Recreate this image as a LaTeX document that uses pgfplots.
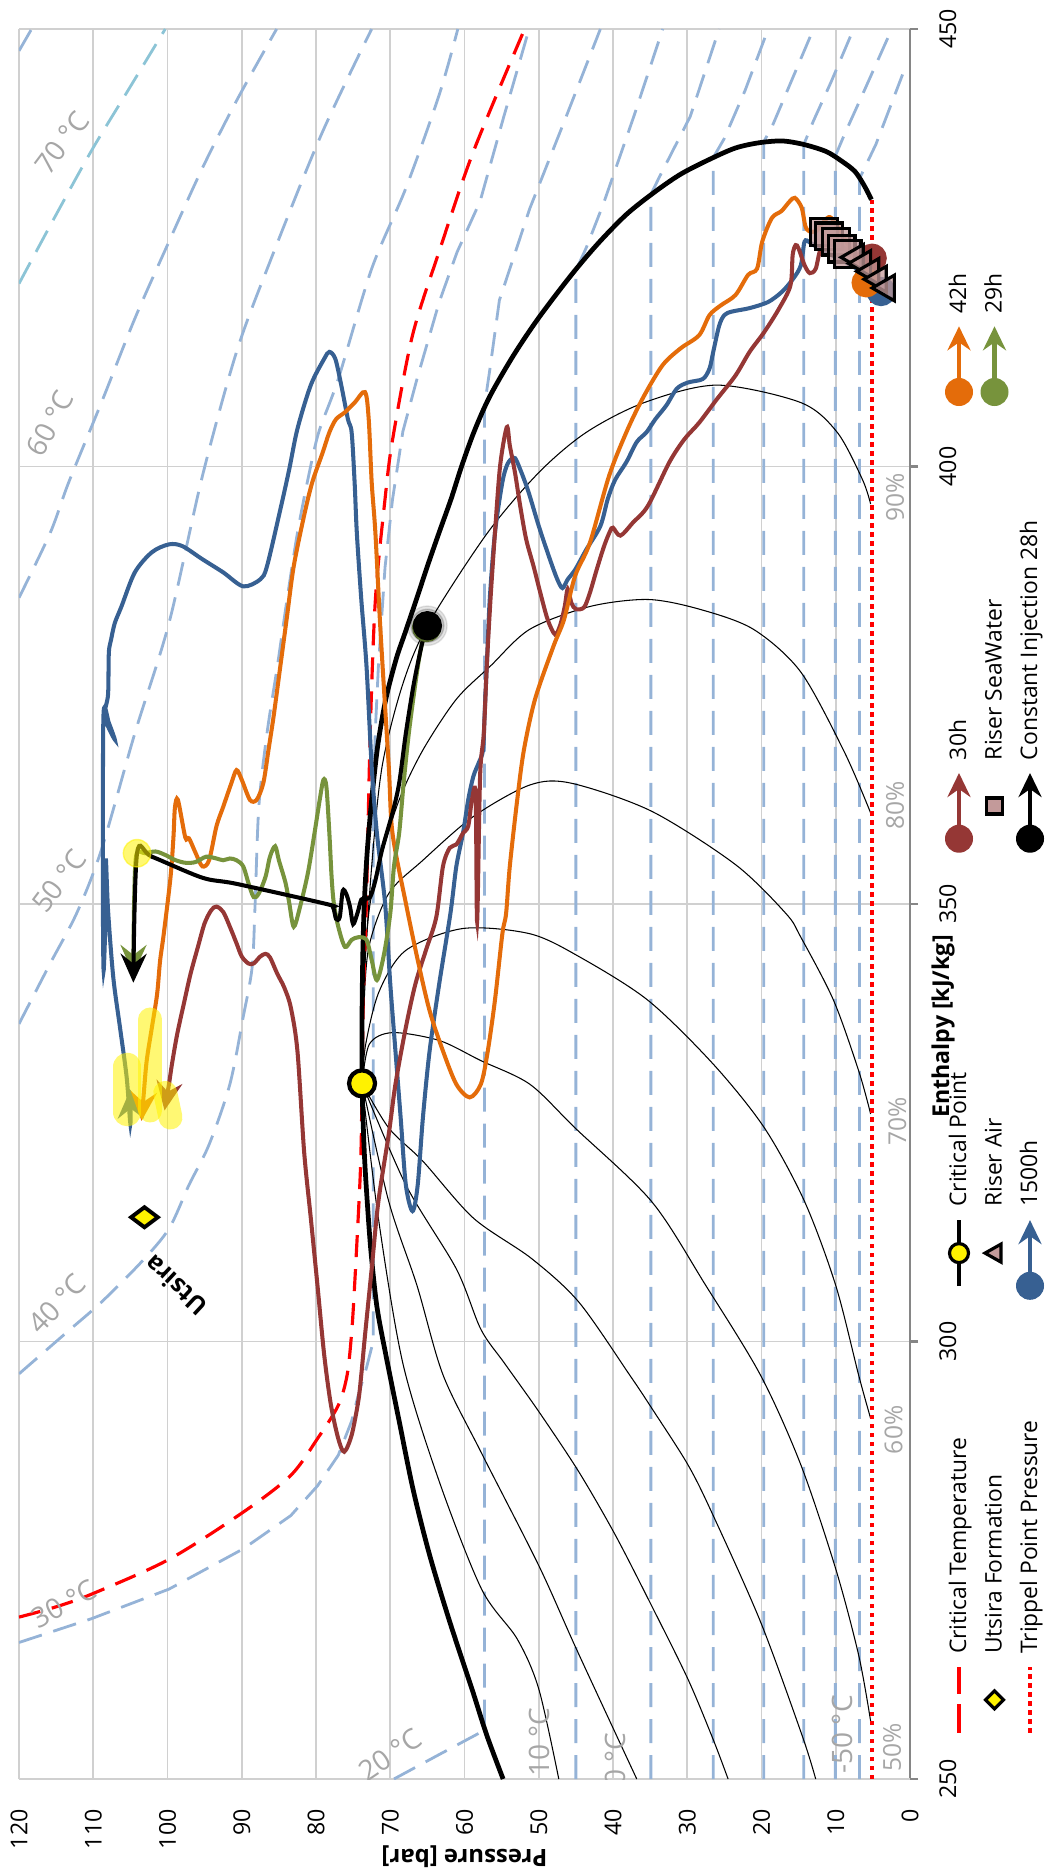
\documentclass[border=0pt]{standalone}
\usepackage{fontspec}
\setmainfont{Open Sans}
\usepackage{pgfplots}
\pgfplotsset{compat=1.18}
\usetikzlibrary{arrows.meta}

\definecolor{isoblue}{HTML}{95B3D7}
\definecolor{isoteal}{HTML}{8CC4D6}
\definecolor{corange}{HTML}{E46C0A}
\definecolor{cgreen}{HTML}{77933C}
\definecolor{cred}{HTML}{953735}
\definecolor{cblue}{HTML}{376092}
\definecolor{labgray}{HTML}{A6A6A6}
\definecolor{gridgray}{HTML}{D0D0D0}
\definecolor{axgray}{HTML}{868686}
\definecolor{riser}{HTML}{C39A9A}

\pgfplotsset{
  iso/.style={isoblue, line width=0.8pt, dash pattern=on 2.4mm off 1.2mm, forget plot},
  qual/.style={black, line width=0.3pt, smooth, forget plot},
  run/.style={#1, line width=1.15pt, smooth, mark=*, mark indices={1}, mark size=3.6pt,
    mark options={solid, fill=#1}, arrows={-Stealth[length=2.9mm,width=2.6mm,inset=1mm]}, forget plot},
  glow/.style={yellow, opacity=0.55, line cap=round, forget plot},
}
\tikzset{
  tlab/.style={font=\fontsize{8}{9}\selectfont, text=labgray, inner sep=0pt},
  plab/.style={font=\fontsize{7}{8}\selectfont, text=labgray, inner sep=0pt},
}

% legend sample: filled start circle, line, arrow end
\newcommand{\runlegend}[1]{%
  \addlegendimage{legend image code/.code={%
    \draw[#1, line width=1.15pt, arrows={-Stealth[length=2.4mm,width=2.3mm,inset=0.8mm]}] (1.3mm,0mm) -- (7.9mm,0mm);
    \fill[#1] (1.33mm,0mm) circle (1.33mm);
  }}}
\newcommand{\legtext}[1]{\makebox[34.3mm][l]{\strut #1}}

\begin{document}
\rotatebox{90}{%
\begin{tikzpicture}
\path[use as bounding box] (-9.2mm,-14.2mm) rectangle (177.9mm,91.0mm);
\begin{axis}[
  at={(0,0)}, anchor=south west,
  scale only axis, width=175mm, height=89.1mm,
  xmin=250, xmax=450, ymin=0, ymax=120,
  xtick={250,300,...,450}, ytick={0,10,...,120},
  axis x line*=bottom, axis y line*=left,
  x axis line style={axgray, line width=0.6pt, -},
  y axis line style={gridgray, line width=0.5pt, -},
  grid=major, grid style={gridgray, line width=0.45pt},
  tick align=outside, major tick length=0.8mm,
  xtick style={axgray, line width=0.6pt},
  ytick style={draw=none},
  /pgf/number format/assume math mode=true,
  ticklabel style={font=\fontsize{6.6}{8}\selectfont},
  xticklabel style={yshift=-0.9mm},
  yticklabel style={xshift=-1.0mm},
  xlabel={\textbf{Enthalpy [kJ/kg]}},
  xlabel style={at={(axis description cs:0.43,0)}, anchor=center, yshift=-3.3mm, font=\fontsize{6.6}{8}\selectfont},
  ylabel={\textbf{Pressure [bar]}},
  ylabel style={at={(axis description cs:-0.0446,0.5)}, anchor=center, font=\fontsize{6.8}{8}\selectfont},
  legend columns=4,
  legend cell align=left,
  legend style={at={(axis description cs:0.0189,0)}, anchor=north west, yshift=-3.5mm,
    draw=none, fill=none, inner sep=0pt, outer sep=0pt,
    column sep=1.1mm, row sep=0.75mm,
    font=\fontsize{6.5}{7.9}\selectfont, nodes={inner sep=0pt}},
]

% ---------- isotherms ----------
\addplot[iso] coordinates {(447.5,120) (450,118.3)};
\addplot[forget plot, isoteal, line width=0.8pt, dash pattern=on 2.4mm off 1.2mm, smooth] coordinates {(420.9,120) (428,115.5) (436.0,110.3) (443,105.3) (450,100.3)};
\addplot[iso, smooth] coordinates {(385,120) (392.4,115.8) (398.2,113.3) (407.3,108.9) (416.9,104.4) (425.7,99.8) (434.1,95.3) (441.8,90.7) (450,85.3)};
\addplot[iso, smooth] coordinates {(336.3,120) (343.2,115.8) (349,112.2) (356.2,108.9) (369.5,104.4) (382.1,99.8) (398.9,95.3) (413.1,90.7) (423.4,86.2) (437.9,79.3) (450,72.5)};
\addplot[iso, smooth] coordinates {(296.3,120) (301.1,113.5) (304.5,108.9) (309.1,103.5) (312.9,99.8) (317.9,97.1) (322.5,94.4) (329.4,91.6) (337.1,89.8) (342.8,88.6) (350,88.2) (361.1,87.7) (369.5,86.6) (377.2,85.2) (384.8,83.9) (392.4,82.5) (398.9,81.0) (404,79.6) (410.0,77.0) (422.6,72.5) (431.8,67.9) (442.5,63.4) (450,60.9)};
\addplot[iso] coordinates {(265.6,120) (268.3,110.3) (271.7,99.8) (276.3,89.8) (280.1,83.4) (283.5,79.8) (287.0,77.0) (290.9,75.2) (293.9,74.3) (297,73.2) (300,72.3) (362,72.3) (370,72.0) (377.1,71.6) (388.5,70.7) (396.2,69.7) (404,68.3) (410,66.4) (418.8,63.4) (424.5,61.0) (430.3,57.9) (440,54.7) (450,51.3)};
\addplot[iso] coordinates {(250,69.5) (252.8,63.4) (255.3,57.9) (256.3,57.3) (407,57.3) (411,56.6) (419,55.3) (429.5,51.2) (440,46.3) (450,41.7)};
\addplot[iso] coordinates {(250,45.0) (422.4,45.0) (425,43.6) (430,41.3) (440,37.2) (450,33.3)};
\addplot[iso] coordinates {(250,34.9) (431.1,34.9) (433,33.8) (440,29.6) (450,25.7)};
\addplot[iso] coordinates {(250,26.5) (435.3,26.5) (437.5,25.0) (443,22.2) (450,19.1)};
\addplot[iso] coordinates {(250,19.7) (437.1,19.7) (439,18.5) (444,16.0) (450,13.0)};
\addplot[iso] coordinates {(250,14.3) (436.8,14.3) (439.5,13.0) (444,10.6) (450,7.6)};
\addplot[iso] coordinates {(250,10.05) (435.5,10.05) (438,8.8) (442.5,6.4) (450,2.45)};
\addplot[iso] coordinates {(250,6.8) (432.9,6.8) (436.8,4.6) (444.8,1.0)};

% ---------- vapour quality lines ----------
\addplot[qual] coordinates {(250,47.3) (260.3,50.0) (266.0,52.9) (271.7,57.7) (284.0,63.4) (297.5,68.3) (314.1,71.6) (329.5,73.8)};
\addplot[qual] coordinates {(250,36.8) (264.8,44.9) (274.4,50.0) (287.4,57.8) (296.2,62.9) (306.4,66.4) (316.0,70.2) (329.5,73.8)};
\addplot[qual] coordinates {(250,24.5) (254.5,26.5) (261.4,29.9) (269.8,34.8) (277.9,39.7) (285.1,44.6) (292.0,50.0) (297.5,54.6) (301.4,57.8) (308.3,61.1) (317.9,67.9) (329.5,73.8)};
\addplot[qual] coordinates {(250,12.7) (254.9,14.5) (267.9,20.1) (280.1,26.5) (285.9,29.9) (292.4,34.8) (296.1,37.7) (304.5,44.6) (309.5,51.0) (314.1,58.8) (320.6,65.6) (324.4,70.2) (329.5,73.8)};
\addplot[qual] coordinates {(256.6,5.3) (264.1,6.9) (274.0,10.0) (285.9,14.7) (296.1,20.1) (306.4,27.5) (316.0,34.8) (324.4,45.1) (329.4,51.2) (332.1,57.8) (334.4,63.4) (335.3,69.7) (334.0,72.8) (329.5,73.8)};
\addplot[qual] coordinates {(291.2,5.3) (296.1,6.9) (306.4,10.0) (316.0,14.2) (324.4,19.6) (331.7,26.5) (339.0,35.3) (344.0,44.6) (346.6,51.2) (347.2,60.2) (344.7,67.9) (340,71.5) (334,73.3) (329.5,73.8)};
\addplot[qual] coordinates {(326.0,5.3) (330.9,6.9) (339.0,10.3) (346.2,14.7) (348.9,16.7) (354.5,23.5) (360.6,34.8) (363.8,45.6) (363.6,51.2) (360.0,58.8) (355.0,65.6) (351.2,70.2) (345,72.9) (337,73.6) (329.5,73.8)};
\addplot[qual] coordinates {(360.4,5.3) (367.3,8.8) (376.5,14.7) (381.4,21.1) (383.7,28.4) (384.8,35.3) (384.0,43.1) (381.4,51.2) (377.2,56.5) (373.4,61.1) (367.6,65.6) (361.9,68.8) (354.3,71.6) (348.9,72.9) (340,73.6) (329.5,73.8)};
\addplot[qual] coordinates {(395.7,5.3) (398.5,6.4) (403.9,9.8) (407.3,14.7) (409.3,26.0) (407.3,35.8) (403.9,43.6) (399.3,50.0) (392.3,57.0) (381.8,65.0) (374.9,68.4) (365.7,71.1) (354.3,72.5) (340,73.6) (329.5,73.8)};

% ---------- triple point pressure and critical isotherm ----------
\addplot[forget plot, red, line width=1.15pt, dash pattern=on 0.45mm off 0.45mm] coordinates {(250,5.18) (430.5,5.18)};
\addplot[forget plot, red, line width=0.9pt, dash pattern=on 2.2mm off 1.2mm, smooth] coordinates {(268.5,120) (269.6,115.3) (271.1,110.3) (275.1,99.8) (280.5,89.8) (284.7,83.4) (288.9,79.8) (292.7,77.0) (296.2,75.8) (301,75.2) (306.4,74.8) (317.9,74.1) (323.3,73.9) (329.5,73.8) (340,73.6) (350.5,73.2) (369.5,72.7) (384.8,72.0) (396.3,70.7) (403,69.7) (415.0,67.0) (424.6,63.4) (436.0,58.8) (450,51.9)};

% ---------- saturation dome ----------
\addplot[forget plot, black, line width=1.35pt, smooth] coordinates {
 (250,54.8) (255,57.0) (260.3,59.0) (268,62.0) (275.6,64.7) (283,66.9) (290.9,68.8) (298.5,70.6)
 (304,71.8) (310.3,72.6) (316,73.1) (321.7,73.5) (329.5,73.8) (337,73.8) (344,73.7) (350,73.5)
 (356,73.1) (361.9,72.5) (368,71.7) (373.4,70.6) (378,69.2) (381,68.0) (385,66.4) (388.6,65.0)
 (392.5,63.4) (396.3,61.8) (400,60.4) (404,58.7) (408,56.6) (412.7,53.4) (417,50.0) (421.9,45.6)
 (425.5,42.0) (428.8,38.2) (431.3,34.5) (433.4,30.9) (435.1,27.0) (436.4,23.5) (437.0,20.3)
 (437.2,17.2) (436.8,14.3) (436.0,11.3) (434.9,9.2) (433.7,7.4) (432.0,6.1) (430.5,5.2)};

% ---------- measured runs ----------
\addplot[run=cblue] coordinates {
 (420.0,3.9) (422.5,7.0) (424.8,12.0) (425.6,13.5) (425.7,14.2) (423.0,14.7) (421.5,15.7) (420.0,17.2)
 (418.8,19.1) (418.1,21.6) (417.7,24.0) (417.3,25.0) (416.1,25.7) (413.1,26.5) (411.2,27.0) (410.0,27.9)
 (409.6,29.9) (408.9,31.4) (407.0,32.8) (405.4,34.3) (403.9,35.5) (402.8,36.8) (400.5,38.2) (398.5,39.7)
 (396.3,40.7) (393.2,41.7) (390.5,43.6) (388.2,45.1) (387.1,46.1) (386.1,46.8) (387.1,47.5) (389.4,48.5)
 (393.2,50.0) (397.4,51.5) (400.5,52.9) (401.0,53.4) (400.3,54.2) (398.2,54.9) (392.4,55.9) (384.8,56.6)
 (377.2,57.0) (371.5,57.3) (367.6,57.5) (366.1,58.1) (364.6,58.8) (361.9,59.5) (358.1,60.2) (354.3,61.1)
 (348.9,61.9) (340.9,63.4) (333.2,64.7) (325.6,65.6) (317.9,66.3) (314.9,67.0) (317.9,67.9) (325.6,68.6)
 (333.2,69.3) (340.9,70.0) (350.1,70.7) (358.1,71.8) (365.7,72.5) (377.2,73.2) (384.8,73.9) (392.4,74.5)
 (398.2,74.8) (403.9,75.2) (405.4,75.7) (409.3,76.6) (412.3,77.4) (413.1,78.2) (412.3,78.9) (409.3,80.7)
 (404.3,82.5) (399.7,83.6) (395.1,84.8) (388.6,86.6) (387.1,87.5) (386.3,89.8) (387.9,92.5) (389.4,95.3)
 (390.9,98.0) (391.1,99.8) (390.2,102.1) (387.9,104.4) (384.0,106.2) (382.1,107.1) (380.2,107.6) (378.7,107.9)
 (374.0,108.0) (372.1,108.4) (370.5,108.1) (368.8,107.1) (370.7,107.9) (372.0,108.6) (360.0,108.7) (350.0,108.7)
 (342.4,108.6) (350.0,108.3) (355.2,108.3) (349.2,108.0) (341.6,107.3) (335.9,106.4) (330.2,105.5) (324.9,105.0)
 (328.8,105.0)};

\addplot[run=cred] coordinates {
 (423.8,5.1) (424.5,8.0) (425.8,10.5) (424.9,12.0) (422.6,12.7) (422.1,13.5) (423.0,14.2) (424.9,15.0)
 (425.3,15.4) (424.2,15.8) (420.7,16.1) (418.1,17.6) (415.4,19.6) (413.1,21.6) (410.4,23.5) (407.7,26.0)
 (405.0,28.4) (403.1,30.4) (400.5,32.4) (395.5,35.3) (393.6,37.3) (392.1,39.0) (393.0,40.0) (392.6,40.4)
 (390.9,41.2) (388.2,42.2) (385.6,43.1) (383.9,43.9) (383.7,45.0) (384.4,45.6) (386.0,46.1) (384.0,46.5)
 (381.9,47.1) (380.8,47.8) (382.5,48.8) (385.6,49.8) (388.6,50.7) (391.7,51.7) (395.5,52.5) (399.3,53.2)
 (402.4,53.9) (404.5,54.3) (400.1,55.2) (392.4,55.9) (384.8,56.5) (377.2,57.0) (369.5,57.4) (364.6,57.9)
 (348.0,58.3) (362.5,58.5) (361.9,59.0) (358.9,59.5) (358.1,60.2) (356.8,61.1) (356.4,62.0) (354.3,62.9)
 (348.5,63.8) (344.7,65.2) (340.9,66.6) (335.9,67.9) (329.4,69.3) (323.7,70.2) (316.0,71.6) (308.3,72.5)
 (300.7,73.4) (296.2,73.9) (293.2,74.3) (289.3,75.2) (287.4,76.2) (288.9,77.0) (292.8,78.0) (298.5,78.9)
 (306.4,79.8) (314.1,80.7) (321.7,81.6) (333.2,82.5) (338.2,83.4) (340.5,84.3) (342.0,85.2) (343.9,86.2)
 (344.3,86.8) (344.0,87.5) (343.2,88.4) (343.2,89.1) (344.0,90.0) (345.5,90.7) (347.4,91.6) (349.1,92.5)
 (349.7,93.4) (349.3,94.1) (347.8,95.0) (345.1,95.9) (342.0,96.9) (338.6,97.8) (335.1,98.7) (331.7,99.4)
 (329.4,99.8) (326.4,100.4)};

\addplot[run=corange] coordinates {
 (421.0,5.9) (424.0,7.5) (427.5,9.8) (428.5,10.8) (428.0,11.6) (426.9,12.6) (426.9,13.6) (427.5,14.1)
 (429.6,14.6) (430.7,15.5) (430.3,16.2) (429.2,17.3) (428.4,18.6) (425.7,19.9) (422.6,20.6) (421.9,21.8)
 (419.6,23.5) (418.4,25.5) (417.3,27.0) (415.0,28.4) (413.5,30.9) (411.6,33.3) (408.1,35.8) (404.3,38.0)
 (399.0,40.5) (391.3,43.1) (387.5,45.1) (382.5,46.6) (379.5,48.0) (373.4,50.5) (367.6,52.0) (361.9,52.9)
 (354.3,53.9) (348.9,54.4) (346.6,54.9) (339.0,55.9) (333.0,56.9) (329.4,57.8) (327.9,59.3) (329.4,61.1)
 (333.2,62.9) (337.8,64.7) (343.6,66.3) (350.1,67.9) (358.1,69.7) (365.7,70.2) (381.0,71.3) (392.4,72.0)
 (398.2,72.5) (405.4,72.9) (408.5,73.4) (407.3,74.8) (406.2,76.1) (405.4,77.3) (403.9,78.2) (401.6,79.1)
 (398.2,80.5) (394.4,81.6) (388.6,83.0) (382.9,83.9) (377.2,84.8) (371.5,85.7) (367.6,86.4) (363.8,87.1)
 (361.9,88.0) (361.9,88.9) (364.2,90.0) (365.3,90.7) (363.8,91.4) (361.1,92.5) (358.9,93.4) (355.0,94.4)
 (354.3,95.3) (355.8,96.2) (357.5,97.1) (357.6,97.6) (361.9,98.6) (361.0,99.0) (357.6,99.2) (353.0,99.6)
 (346.6,100.5) (343.5,101.0) (339.7,101.4) (335.9,102.1) (332.1,102.8) (328.3,103.2) (325.2,103.5)};

\addplot[run=cgreen] coordinates {
 (381.6,65.1) (379.1,65.9) (375.3,66.6) (369.5,67.5) (363.8,68.2) (358.1,68.8) (354.3,69.5) (348.9,70.0)
 (344.0,70.9) (341.3,71.8) (343.6,72.5) (345.9,73.2) (346.2,74.3) (345.9,75.2) (345.1,76.1) (347.4,77.0)
 (350.1,77.6) (353.1,77.9) (358.1,78.2) (363.4,78.6) (364.2,79.0) (361.9,79.5) (358.1,80.2) (353.5,81.1)
 (349.5,82.2) (347.4,83.0) (350.1,83.6) (352.4,84.1) (355.0,85.0) (356.6,85.5) (355.4,86.2) (353.1,86.8)
 (351.2,87.7) (350.8,88.4) (352.4,89.1) (354.3,89.8) (355.0,90.7) (355.2,91.6) (355.0,92.5) (355.2,93.4)
 (355.4,94.8) (354.8,96.2) (354.7,97.5) (355.0,98.9) (355.6,100.3) (356.0,101.6) (355.8,103.0) (355.6,104.2)
 (350.0,104.5) (342.0,104.6)};

% soft shadow round the injection start point
\addplot[forget plot, only marks, mark=*, mark size=5.6pt, black, opacity=0.10] coordinates {(381.8,65.0)};
\addplot[forget plot, only marks, mark=*, mark size=4.7pt, black, opacity=0.15] coordinates {(381.8,65.0)};

\addplot[run=black] coordinates {
 (381.8,65.0) (380.2,65.6) (375.3,66.8) (369.5,67.9) (363.8,68.8) (360.4,69.7) (356.2,71.1) (352.7,72.0)
 (350.8,72.7) (350.6,73.4) (350.5,73.9) (349.0,74.4) (347.7,75.0) (349.6,75.4) (351.1,75.9) (351.5,76.4)
 (348.5,76.8) (348.3,77.3) (349.6,77.7) (350.0,78.6) (352.3,90.7) (353.0,95.3) (355.4,102.1) (355.8,104.1)
 (341.0,104.6)};

% ---------- riser samples ----------
\addplot[forget plot, only marks, mark=square*, mark size=3.8pt, mark options={fill=riser, fill opacity=0.75, draw=black, line width=0.9pt}] coordinates {
 (426.8,11.6) (426.3,10.9) (425.7,10.0) (424.9,9.2) (424.3,8.4)};
\addplot[forget plot, only marks, mark=triangle*, mark size=4.2pt, mark options={fill=riser, fill opacity=0.75, draw=black, line width=0.9pt}] coordinates {
 (423.9,7.3) (423.2,6.3) (422.3,5.2) (421.4,4.2) (420.4,3.1)};

% ---------- critical point and Utsira ----------
\addplot[forget plot, only marks, mark=*, mark size=3.7pt, mark options={fill=yellow, draw=black, line width=1.2pt}] coordinates {(329.5,73.8)};
\addplot[forget plot, only marks, mark=diamond*, mark size=3.8pt, mark options={fill=yellow, draw=black, line width=1.1pt}] coordinates {(314.2,103.1)};

% ---------- highlighter marks at the run ends ----------
\addplot[glow, only marks, mark=*, mark size=3.9pt] coordinates {(355.8,104.1)};
\addplot[glow, line width=2.4mm] coordinates {(336.8,102.3) (326.4,102.3)};
\addplot[glow, line width=2.8mm] coordinates {(331.4,105.4) (326.2,105.4)};
\addplot[glow, line width=2.4mm] coordinates {(328.4,100.3) (325.6,99.6)};

% ---------- annotations ----------
\node[tlab, rotate=-37] at (axis cs:437,114.2) {70 °C};
\node[tlab, rotate=-28] at (axis cs:404.9,115.8) {60 °C};
\node[tlab, rotate=-37] at (axis cs:352.6,114.6) {50 °C};
\node[tlab, rotate=-44] at (axis cs:304.3,114.9) {40 °C};
\node[tlab, rotate=-61] at (axis cs:270.0,113.9) {30 °C};
\node[tlab, rotate=-56] at (axis cs:252.8,70.0) {20 °C};
\node[tlab] at (axis cs:254.2,49.9) {10 °C};
\node[tlab] at (axis cs:252.3,39.7) {0 °C};
\node[tlab] at (axis cs:255.1,9.1) {-50 °C};
\node[plab] at (axis cs:253.6,2.4) {50\%};
\node[plab] at (axis cs:289.9,2.2) {60\%};
\node[plab] at (axis cs:325.2,1.7) {70\%};
\node[plab] at (axis cs:361.3,2.0) {80\%};
\node[plab] at (axis cs:396.5,2.0) {90\%};
\node[font=\bfseries\fontsize{7}{8}\selectfont, rotate=47, inner sep=0pt] at (axis cs:306.4,98.9) {Utsira};

% ---------- legend ----------
\addlegendimage{legend image code/.code={\draw[red, line width=0.9pt, dash pattern=on 2.9mm off 1mm] (1.3mm,0mm) -- (7.9mm,0mm);}}
\addlegendentry{\legtext{Critical Temperature}}
\addlegendimage{legend image code/.code={\draw[black, line width=1.35pt] (1.3mm,0mm) -- (7.9mm,0mm);
  \filldraw[fill=yellow, draw=black, line width=0.9pt] (4.6mm,0mm) circle (0.95mm);}}
\addlegendentry{\legtext{Critical Point}}
\runlegend{cred}
\addlegendentry{\legtext{30h}}
\runlegend{corange}
\addlegendentry{\legtext{42h}}
\addlegendimage{legend image code/.code={\path[draw=none] (0mm,0mm) -- (7.9mm,0mm);
  \filldraw[fill=yellow, draw=black, line width=0.9pt] (4.6mm,0mm) +(0.9mm,0mm) -- +(0mm,0.9mm) -- +(-0.9mm,0mm) -- +(0mm,-0.9mm) -- cycle;}}
\addlegendentry{\legtext{Utsira Formation}}
\addlegendimage{legend image code/.code={\path[draw=none] (0mm,0mm) -- (7.9mm,0mm);
  \filldraw[fill=riser, draw=black, line width=0.9pt] (4.6mm,0.95mm) -- (3.7mm,-0.65mm) -- (5.5mm,-0.65mm) -- cycle;}}
\addlegendentry{\legtext{Riser Air}}
\addlegendimage{legend image code/.code={\path[draw=none] (0mm,0mm) -- (7.9mm,0mm);
  \filldraw[fill=riser, draw=black, line width=0.9pt] (3.8mm,-0.8mm) rectangle (5.4mm,0.8mm);}}
\addlegendentry{\legtext{Riser SeaWater}}
\runlegend{cgreen}
\addlegendentry{\legtext{29h}}
\addlegendimage{legend image code/.code={\draw[red, line width=1.2pt, dash pattern=on 0.45mm off 0.45mm] (1.3mm,0mm) -- (7.9mm,0mm);}}
\addlegendentry{\legtext{Trippel Point Pressure}}
\runlegend{cblue}
\addlegendentry{\legtext{1500h}}
\runlegend{black}
\addlegendentry{\legtext{Constant Injection 28h}}
\end{axis}
\end{tikzpicture}}
\end{document}
